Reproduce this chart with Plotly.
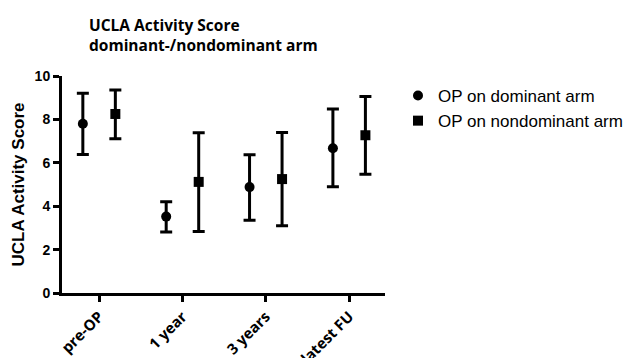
import plotly.graph_objects as go

categories = ["pre-OP", "1 year", "3 years", "latest FU"]

dom_mean = [7.8, 3.52, 4.88, 6.67]
dom_upper = [9.2, 4.21, 6.37, 8.48]
dom_lower = [6.38, 2.81, 3.35, 4.9]

nondom_mean = [8.25, 5.12, 5.25, 7.27]
nondom_upper = [9.35, 7.39, 7.4, 9.05]
nondom_lower = [7.11, 2.83, 3.1, 5.47]

series_names = ["OP on dominant arm", "OP on nondominant arm"]

offset = 0.195
idx = list(range(len(categories)))

fig = go.Figure()

def add(name, mean, upper, lower, shift, symbol):
    fig.add_trace(go.Scatter(
        x=[i + shift for i in idx],
        y=mean,
        mode="markers",
        name=name,
        legendgroup=name,
        marker=dict(symbol=symbol, size=10, color="black"),
        error_y=dict(
            type="data",
            symmetric=False,
            array=[u - m for u, m in zip(upper, mean)],
            arrayminus=[m - l for m, l in zip(mean, lower)],
            color="black",
            thickness=3,
            width=6,
        ),
    ))

add(series_names[0], dom_mean, dom_upper, dom_lower, -offset, "circle")
add(series_names[1], nondom_mean, nondom_upper, nondom_lower, offset, "square")

fig.update_layout(
    width=632,
    height=358,
    margin=dict(l=62, r=247, t=76, b=65, autoexpand=False),
    plot_bgcolor="white",
    paper_bgcolor="white",
    title=dict(
        text="UCLA Activity Score<br>dominant-/nondominant arm",
        x=89 / 632,
        xanchor="left",
        y=1 - 31 / 358,
        yanchor="top",
        font=dict(family="Open Sans", size=15.5, color="black", weight="bold"),
        automargin=False,
    ),
    showlegend=True,
    legend=dict(
        x=(398 - 62) / 323,
        xanchor="left",
        y=(293 - 78) / 217,
        yanchor="top",
        font=dict(family="Liberation Sans", size=17, color="black"),
        traceorder="grouped",
        tracegroupgap=0,
        itemwidth=30,
        bgcolor="rgba(0,0,0,0)",
    ),
    xaxis=dict(
        range=[-0.445, 3.43],
        tickvals=idx,
        ticktext=categories,
        tickangle=-45,
        automargin=False,
        showgrid=False,
        zeroline=False,
        showline=True,
        linecolor="black",
        linewidth=3,
        ticks="outside",
        ticklen=6,
        tickwidth=3,
        tickcolor="black",
        tickfont=dict(family="Open Sans", size=15, color="black", weight="bold"),
    ),
    yaxis=dict(
        range=[0, 10],
        tickvals=[0, 2, 4, 6, 8, 10],
        automargin=False,
        showgrid=False,
        zeroline=False,
        showline=True,
        linecolor="black",
        linewidth=3,
        ticks="outside",
        ticklen=6,
        tickwidth=3,
        tickcolor="black",
        tickfont=dict(family="Liberation Sans", size=14, color="black", weight="bold"),
        title=dict(
            text="UCLA Activity Score",
            font=dict(family="Liberation Sans", size=17, color="black", weight="bold"),
            standoff=6,
        ),
    ),
)

fig.write_html(
    "out.html",
    config={"displayModeBar": False},
    post_script="document.body.style.margin='0';document.body.style.overflow='hidden';",
)
